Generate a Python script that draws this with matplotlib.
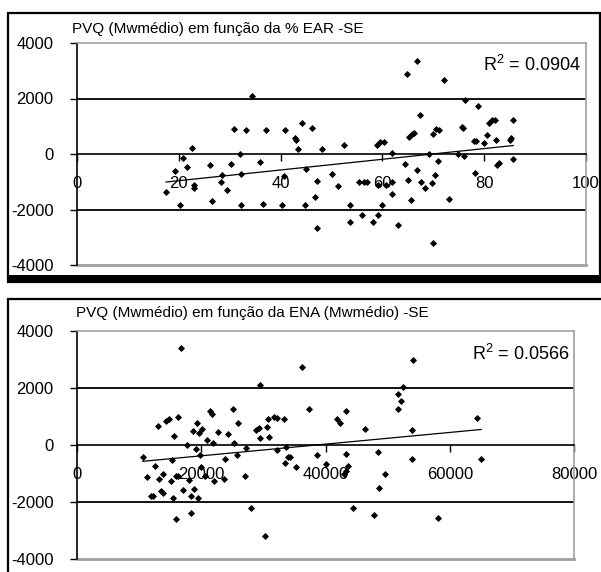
import numpy as np
import matplotlib
matplotlib.use("Agg")
import matplotlib.pyplot as plt
from matplotlib.patches import Rectangle

plt.rcParams['font.family'] = ['Liberation Sans', 'DejaVu Sans']
plt.rcParams['mathtext.fontset'] = 'custom'
plt.rcParams['mathtext.rm'] = 'Liberation Sans'
plt.rcParams['mathtext.default'] = 'regular'

# --- data ---
ear_title = "PVQ (Mwmédio) em função da % EAR -SE"
ena_title = "PVQ (Mwmédio) em função da ENA (Mwmédio) -SE"
ear_r2 = "R$^2$ = 0.0904"
ena_r2 = "R$^2$ = 0.0566"
y_ticks = [-4000, -2000, 0, 2000, 4000]
ear_xticks = [0, 20, 40, 60, 80, 100]
ena_xticks = [0, 20000, 40000, 60000, 80000]

ear_x = [17.5, 19.2, 20.3, 20.9, 21.7, 22.6, 23.0, 23.0, 26.2, 26.6,
         28.3, 28.5, 29.4, 30.2, 30.9, 32.0, 32.3, 32.3, 33.2, 34.3,
         36.0, 36.6, 37.2, 40.2, 40.8, 40.6, 42.8, 43.0, 43.5, 44.2,
         44.7, 45.0, 46.1, 46.7, 47.2, 47.2, 48.2, 50.1, 51.2, 52.4,
         53.6, 53.7, 55.4, 56.0, 56.4, 56.9, 58.2, 58.9, 59.2, 59.2,
         59.5, 59.9, 60.3, 60.7, 61.8, 61.8, 61.9, 63.1, 64.4, 64.8,
         65.0, 65.3, 65.7, 65.9, 66.2, 66.8, 66.8, 67.4, 67.6, 68.4,
         69.2, 69.7, 69.9, 69.9, 70.3, 70.5, 70.9, 71.1, 72.2, 73.1,
         74.8, 75.7, 75.9, 76.1, 76.3, 78.0, 78.2, 78.7, 78.4, 80.0,
         80.5, 81.0, 81.6, 82.1, 82.3, 82.6, 83.0, 85.1, 85.3, 85.7,
         85.7]
ear_y = [-1370, -600, -1850, -145, -480, 230, -1220, -1130, -410, -1690,
         -1020, -770, -1280, -370, 900, 10, -710, -1850, 850, 2100,
         -300, -1790, 850, -1850, 850, -800, 580, 520, 180, 1120,
         -1850, -550, 950, -1550, -990, -2660, 180, -710, -1160, 340,
         -1850, -2440, -1020, -2210, -1020, -1020, -2440, 310, -1100, -2210,
         420, -1850, 420, -1100, 35, -1440, -1020, -2570, -360, 2890,
         -920, 610, -1640, 730, 760, 3340, -560, 1420, -1020, -1220,
         0, -1040, -3200, 730, -740, 900, -240, 850, 2650, -1620,
         0, 960, 935, -80, 1960, 460, -680, 1720, 460, 400,
         700, 1120, 1210, 1240, 490, -380, -320, 520, 580, 1210,
         -180]

ena_x = [10580, 11260, 11880, 12190, 12490, 13050, 13230, 13540, 13850, 13850,
         14340, 14770, 15080, 15260, 15380, 15570, 15880, 15880, 16190, 16310,
         16740, 16990, 17720, 17970, 18280, 18280, 18650, 18770, 19080, 19260,
         19510, 19570, 19820, 20000, 20190, 20620, 20930, 21420, 21720, 21970,
         22030, 22770, 23690, 23820, 24250, 25110, 25350, 25720, 25850, 27080,
         27260, 28000, 28800, 29230, 29420, 29420, 30280, 30590, 30950, 30770,
         31690, 32120, 32120, 33350, 33420, 33720, 33970, 34340, 35200, 36190,
         37420, 38650, 40120, 41850, 42340, 42950, 43260, 43380, 43380, 43700,
         44430, 46280, 47880, 48490, 48620, 49540, 51600, 51690, 52190, 52430,
         53850, 53970, 54030, 58030, 64310, 65050]
ena_y = [-420, -1140, -1800, -1800, -720, 660, -1200, -1620, -1680, -1020,
         840, 900, -1260, -540, -1860, 320, -2600, -1080, -1080, 1000,
         3400, -1570, 0, -1240, -2380, -1800, 480, -1560, -140, 780,
         -1860, 420, -360, -780, 560, -1080, 180, 1200, 1080, 60,
         -1260, 470, -1200, -480, 400, 1260, 60, -360, 760, -1100,
         -120, -2220, 520, 580, 2120, 260, -3180, 640, 280, 920,
         1000, -180, 960, 920, -620, -60, -420, -420, -780, 2740,
         1260, -360, -660, 920, 780, -1020, -900, -300, 1200, -720,
         -2220, 560, -2440, -240, -1500, -1000, 1260, 1780, 1540, 2020,
         540, -480, 2980, -2560, 960, -480]

W, H = 601, 572
fig = plt.figure(figsize=(W / 100, H / 100), dpi=100)
fig.patch.set_facecolor('white')


def fx(px):
    return px / W


def fy(py):
    return 1 - py / H


# outer frames of the two excel charts
fig.add_artist(Rectangle((fx(8), fy(282)), fx(600) - fx(8), fy(13) - fy(282),
                         transform=fig.transFigure, fill=False, lw=1.6, ec='black'))
fig.add_artist(Rectangle((fx(8), fy(281)), fx(601) - fx(8), fy(277) - fy(283),
                         transform=fig.transFigure, fill=True, fc='black', ec='none'))
fig.add_artist(Rectangle((fx(8), fy(580)), fx(610) - fx(8), fy(299) - fy(580),
                         transform=fig.transFigure, fill=False, lw=1.6, ec='black'))


def scatter_panel(rect, xs, ys, xticks, title, title_pos, r2, r2_pos):
    ax = fig.add_axes([fx(rect[0]), fy(rect[3]), fx(rect[2]) - fx(rect[0]),
                       fy(rect[1]) - fy(rect[3])])
    ax.set_xlim(xticks[0], xticks[-1])
    ax.set_ylim(-4000, 4000)
    ax.set_xticks(xticks)
    ax.set_yticks(y_ticks)
    ax.set_xticklabels([str(t) for t in xticks])
    ax.set_yticklabels([str(t) for t in y_ticks])

    for sp in ['top', 'right']:
        ax.spines[sp].set_color('#a0a0a0')
        ax.spines[sp].set_linewidth(1.2)
    ax.spines['left'].set_color('black')
    ax.spines['left'].set_linewidth(1.2)
    ax.spines['bottom'].set_position(('data', 0))
    ax.spines['bottom'].set_color('black')
    ax.spines['bottom'].set_linewidth(1.2)
    ax.axhline(-4000, color='#a0a0a0', lw=2.0, clip_on=False)
    for g in [-2000, 2000]:
        ax.axhline(g, color='black', lw=1.3)

    ax.tick_params(axis='x', direction='out', length=5, width=1, pad=11,
                   labelsize=12)
    ax.tick_params(axis='y', direction='out', length=5, width=1, pad=12,
                   labelsize=12)

    ax.plot(xs, ys, linestyle='none', marker='D', markersize=3.0,
            markeredgewidth=0.6, color='black', zorder=3)

    k, b = np.polyfit(xs, ys, 1)
    xl = np.array([min(xs), max(xs)])
    ax.plot(xl, k * xl + b, color='black', lw=0.9, zorder=3)

    ax.text(r2_pos[0], r2_pos[1], r2, transform=ax.transAxes, ha='right',
            va='center', fontsize=13)
    fig.text(fx(title_pos[0]), fy(title_pos[1]), title, ha='left',
             va='center', fontsize=11)
    return ax


scatter_panel((77, 43, 586, 265), ear_x, ear_y, ear_xticks, ear_title,
              (72, 29), ear_r2, (0.99, 0.9))
scatter_panel((77, 331, 574, 559), ena_x, ena_y, ena_xticks, ena_title,
              (76, 313), ena_r2, (0.99, 0.9))

fig.savefig('out.png', dpi=100)
